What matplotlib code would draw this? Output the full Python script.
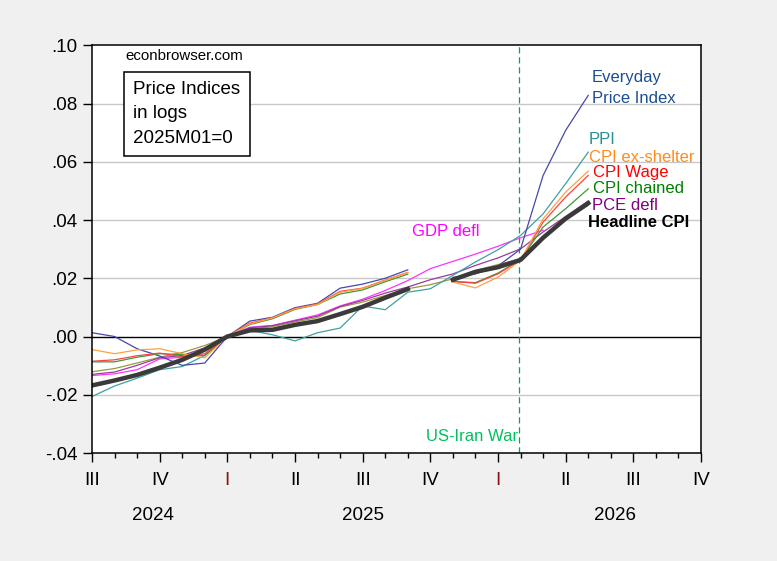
import numpy as np
import matplotlib
matplotlib.use('Agg')
import matplotlib.pyplot as plt
from matplotlib.ticker import FixedLocator, MultipleLocator, FuncFormatter

plt.rcParams['font.family'] = ['Liberation Sans', 'DejaVu Sans']

# months 2024M07 .. 2026M05 (index 0 = 2024M07), nan = missing (Oct 2025)
nan = np.nan
months = np.arange(23)

headline = [-0.0168, -0.0151, -0.0132, -0.0107, -0.0080, -0.0045, 0.0, 0.0021, 0.0023, 0.0040,
            0.0053, 0.0077, 0.0102, 0.0133, 0.0163, nan, 0.0195, 0.0222, 0.0238, 0.0263,
            0.0339, 0.0405, 0.0458]
everyday = [0.0013, 0.0, -0.0042, -0.0067, -0.0099, -0.0091, 0.0, 0.0053, 0.0066, 0.0099,
            0.0114, 0.0166, 0.0180, 0.0200, 0.0229, nan, 0.0203, 0.0215, 0.0242, 0.0300,
            0.0553, 0.0708, 0.0828]
ex_shelter = [-0.0045, -0.0059, -0.0046, -0.0042, -0.0059, -0.0073, 0.0, 0.0043, 0.0064, 0.0095,
              0.0110, 0.0152, 0.0165, 0.0193, 0.0220, nan, 0.0187, 0.0167, 0.0204, 0.0261,
              0.0404, 0.0496, 0.0568]
wage = [-0.0085, -0.0080, -0.0066, -0.0057, -0.0069, -0.0059, 0.0, 0.0046, 0.0064, 0.0096,
        0.0112, 0.0155, 0.0166, 0.0194, 0.0220, nan, 0.0189, 0.0183, 0.0215, 0.0263,
        0.0393, 0.0479, 0.0553]
chained = [-0.0087, -0.0087, -0.0071, -0.0059, -0.0062, -0.0065, 0.0, 0.0041, 0.0061, 0.0093,
           0.0110, 0.0146, 0.0160, 0.0188, 0.0214, nan, 0.0189, 0.0185, 0.0218, 0.0263,
           0.0376, 0.0439, 0.0507]
ppi = [-0.0206, -0.0170, -0.0143, -0.0114, -0.0103, -0.0065, 0.0, 0.0021, 0.0006, -0.0015,
       0.0013, 0.0029, 0.0105, 0.0092, 0.0152, 0.0164, 0.0210, 0.0256, 0.0298, 0.0347,
       0.0421, 0.0525, 0.0633]
pce = [-0.0130, -0.0122, -0.0099, -0.0073, -0.0065, -0.0039, 0.0, 0.0030, 0.0037, 0.0054,
       0.0070, 0.0103, 0.0124, 0.0149, 0.0170, 0.0195, 0.0215, 0.0244, 0.0270, 0.0301,
       0.0359, 0.0412, 0.0465]
olive = [-0.0121, -0.0110, -0.0091, -0.0071, -0.0055, -0.0031, 0.0, 0.0026, 0.0034, 0.0050,
         0.0065, 0.0101, 0.0118, 0.0141, 0.0164, 0.0178, 0.0198, 0.0227, 0.0247, 0.0267,
         0.0336, 0.0399, 0.0450]
gdp_defl = [-0.0134, -0.0128, -0.0114, -0.0077, -0.0071, -0.0046, 0.0, 0.0032, 0.0038, 0.0056,
            0.0074, 0.0105, 0.0128, 0.0158, 0.0192, 0.0233, 0.0258, 0.0283, 0.0310, 0.0339,
            0.0365, nan, nan]

quarter_labels = ['III', 'IV', 'I', 'II', 'III', 'IV', 'I', 'II', 'III', 'IV']
year_labels = ['2024', '2025', '2026']
year_pos = [2.7, 12.0, 23.2]
war_month = 18.93

fig = plt.figure(figsize=(7.77, 5.61), dpi=100, facecolor='#f0f0f0')
ax = fig.add_axes([0.1184, 0.1925, 0.7838, 0.7268])
ax.set_facecolor('white')

for v in [-0.02, 0.02, 0.04, 0.06, 0.08]:
    ax.axhline(v, color='#c8c8c8', lw=1, zorder=0)
ax.axhline(0, color='black', lw=1, zorder=1)
ax.axvline(war_month, color='#00a850', lw=0.9, ls=(0, (5, 3)), zorder=1)

lw = 0.9
ax.plot(months, gdp_defl, color='#ff33ff', lw=lw)
ax.plot(months, olive, color='#9a9a40', lw=lw)
ax.plot(months, pce, color='#9a3c9a', lw=lw)
ax.plot(months, ppi, color='#40a0a0', lw=lw)
ax.plot(months, everyday, color='#4848a8', lw=lw)
ax.plot(months, chained, color='#3a9a3a', lw=lw)
ax.plot(months, wage, color='#ff4040', lw=lw)
ax.plot(months, ex_shelter, color='#ffa040', lw=lw)
ax.plot(months, headline, color='#3a3a3a', lw=3.2)

ax.set_xlim(0, 27)
ax.set_ylim(-0.04, 0.10)

ax.yaxis.set_major_locator(MultipleLocator(0.02))
ax.yaxis.set_major_formatter(FuncFormatter(lambda v, p: f'{v:.2f}'.replace('0.', '.')))
ax.xaxis.set_major_locator(FixedLocator(np.arange(0, 28, 3)))
ax.xaxis.set_minor_locator(MultipleLocator(1))
ax.set_xticklabels(quarter_labels)
for lab, q in zip(ax.get_xticklabels(), quarter_labels):
    if q == 'I':
        lab.set_color('#8b1010')

ax.tick_params(axis='both', which='major', direction='out', length=6.5, width=1, labelsize=13.5)
ax.tick_params(axis='x', which='major', pad=7)
ax.tick_params(axis='y', which='major', pad=4)
ax.tick_params(axis='x', which='minor', direction='out', length=3.6, width=1)
for s in ax.spines.values():
    s.set_linewidth(1.1)

for yl, xp in zip(year_labels, year_pos):
    ax.text(xp, -0.153, yl, transform=ax.get_xaxis_transform(), ha='center', va='center', fontsize=13.5)

# annotations
fig.text(125 / 777, 1 - 56 / 561, 'econbrowser.com', fontsize=10.8, va='center', ha='left')
fig.text(133 / 777, 1 - 114 / 561, 'Price Indices\nin logs\n2025M01=0', fontsize=13.5, va='center',
         ha='left', linespacing=1.55,
         bbox=dict(boxstyle='square,pad=0.5', fc='white', ec='black', lw=1.1))

def px(x, y):
    return (x - 92) / 22.56, (336 - y) / 2910.0

labels = [
    ('Everyday\nPrice Index', 592, 87.5, '#1c4f91', 'normal', 1.5),
    ('PPI', 589, 139, '#2a8f8f', 'normal', 1.2),
    ('CPI ex-shelter', 589, 157, '#ff8c1a', 'normal', 1.2),
    ('CPI Wage', 593, 172, '#ff0000', 'normal', 1.2),
    ('CPI chained', 593, 188, '#008000', 'normal', 1.2),
    ('PCE defl', 592, 205, '#800080', 'normal', 1.2),
    ('Headline CPI', 588, 222, 'black', 'bold', 1.2),
    ('GDP defl', 412, 231, '#ff00ff', 'normal', 1.2),
]
for txt, x, y, c, w, ls in labels:
    xd, yd = px(x, y)
    ax.text(xd, yd, txt, color=c, fontsize=12, fontweight=w, ha='left', va='center', linespacing=ls)

xd, yd = px(518, 436)
ax.text(xd, yd, 'US-Iran War', color='#00c060', fontsize=12, ha='right', va='center')

fig.savefig('out.png', dpi=100, facecolor=fig.get_facecolor())
